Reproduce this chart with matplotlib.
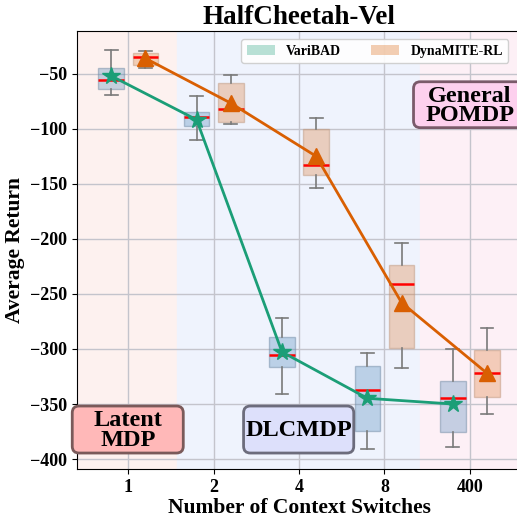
import numpy as np
import matplotlib
matplotlib.use('Agg')
import matplotlib.pyplot as plt
from matplotlib.patches import Patch, FancyBboxPatch

plt.rcParams['font.family'] = ['Liberation Serif', 'DejaVu Serif']
plt.rcParams['font.weight'] = 'bold'

# data
switches = ['1', '2', '4', '8', '400']

# VariBAD boxes: whisker low, q1, median, q3, whisker high, mean
vb_wlo = [-69.7, -110.0, -340.6, -391.2, -389.0]
vb_q1 = [-63.6, -97.3, -316.7, -374.8, -375.5]
vb_med = [-55.7, -89.4, -305.7, -337.0, -344.8]
vb_q3 = [-44.8, -85.2, -289.4, -315.5, -328.8]
vb_whi = [-28.8, -70.6, -271.5, -304.0, -299.7]
vb_mean = [-52.0, -91.8, -302.7, -344.8, -350.0]

# DynaMITE-RL boxes
dm_wlo = [-44.8, -95.5, -154.2, -317.3, -358.8]
dm_q1 = [-42.1, -94.2, -141.8, -299.0, -343.9]
dm_med = [-34.8, -82.1, -133.3, -240.9, -321.5]
dm_q3 = [-30.9, -58.5, -100.3, -223.3, -300.6]
dm_whi = [-29.7, -51.2, -90.6, -203.6, -281.2]
dm_mean = [-36.0, -76.7, -125.0, -257.9, -322.0]

# regime labels
regimes = ['Latent\nMDP', 'DLCMDP', 'General\nPOMDP']

x = np.arange(len(switches))

fig = plt.figure(figsize=(5.17, 5.18), dpi=100)
ax = fig.add_axes([0.149, 0.0946, 0.859, 0.846])

# regime shading
ax.axvspan(-0.6, 0.575, color='#fdf1ef', zorder=0)
ax.axvspan(0.575, 3.41, color='#eff3fd', zorder=0)
ax.axvspan(3.41, 4.6, color='#fdf0f6', zorder=0)


def stats(wlo, q1, med, q3, whi):
    return [dict(whislo=a, q1=b, med=c, q3=d, whishi=e, fliers=[])
            for a, b, c, d, e in zip(wlo, q1, med, q3, whi)]


ax.bxp(stats(vb_wlo, vb_q1, vb_med, vb_q3, vb_whi), positions=x - 0.2, widths=0.3,
       patch_artist=True, showfliers=False, manage_ticks=False,
       boxprops=dict(facecolor=(0.27, 0.51, 0.71, 0.3), edgecolor=(0.45, 0.55, 0.65, 0.5)),
       medianprops=dict(color='red', lw=1.8),
       whiskerprops=dict(color='#7a7a7a', lw=1.2), capprops=dict(color='#7a7a7a', lw=1.2))
ax.bxp(stats(dm_wlo, dm_q1, dm_med, dm_q3, dm_whi), positions=x + 0.2, widths=0.3,
       patch_artist=True, showfliers=False, manage_ticks=False,
       boxprops=dict(facecolor=(0.85, 0.37, 0.01, 0.25), edgecolor=(0.75, 0.6, 0.5, 0.5)),
       medianprops=dict(color='red', lw=1.8),
       whiskerprops=dict(color='#7a7a7a', lw=1.2), capprops=dict(color='#7a7a7a', lw=1.2))

ax.plot(x - 0.2, vb_mean, color='#1b9e77', lw=2, marker='*', ms=13, zorder=5)
ax.plot(x + 0.2, dm_mean, color='#d95f02', lw=2, marker='^', ms=12, zorder=5)

ax.set_xlim(-0.6, 4.6)
ax.set_ylim(-409, -11)
ax.set_xticks(x)
ax.set_xticklabels(switches)
ax.set_yticks([-50, -100, -150, -200, -250, -300, -350, -400])
ax.tick_params(labelsize=13)
ax.grid(True, color='#c4c4cc', lw=1)
ax.set_axisbelow(True)

ax.set_title('HalfCheetah-Vel', fontsize=19.5, fontweight='bold', pad=5)
ax.set_xlabel('Number of Context Switches', fontsize=15.5, fontweight='bold', labelpad=2)
ax.set_ylabel('Average Return', fontsize=15.5, fontweight='bold')

# regime label boxes: (x0, x1, y0, y1) in data units
boxes = [(-0.656, 0.644, -394.5, -351.8), (1.35, 2.64, -394.5, -351.8), (3.34, 4.66, -99.0, -57.3)]
fcs = ['#ffb8b8', '#dde0fb', '#fdd0ee']
ecs = ['#7a5a5a', '#6c6c7c', '#7a5a6a']
for (x0, x1, y0, y1), lab, fc, ec in zip(boxes, regimes, fcs, ecs):
    p = FancyBboxPatch((x0, y0), x1 - x0, y1 - y0,
                       boxstyle='round,pad=0,rounding_size=0.08', mutation_aspect=77,
                       fc=fc, ec=ec, lw=2, clip_on=False, zorder=6)
    ax.add_patch(p)
    ax.text((x0 + x1) / 2, (y0 + y1) / 2 - 1, lab, ha='center', va='center',
            fontsize=17.5, fontweight='bold', linespacing=0.9, clip_on=False, zorder=7)

handles = [Patch(facecolor=(0.106, 0.62, 0.467, 0.3), label='VariBAD'),
           Patch(facecolor=(0.85, 0.37, 0.01, 0.3), label='DynaMITE-RL')]
ax.legend(handles=handles, loc='upper right', ncol=2, fontsize=10,
          bbox_to_anchor=(0.99, 1.0), borderaxespad=0.6, columnspacing=2.2,
          handlelength=2.0, framealpha=0.9)

fig.savefig('out.png', dpi=100)
